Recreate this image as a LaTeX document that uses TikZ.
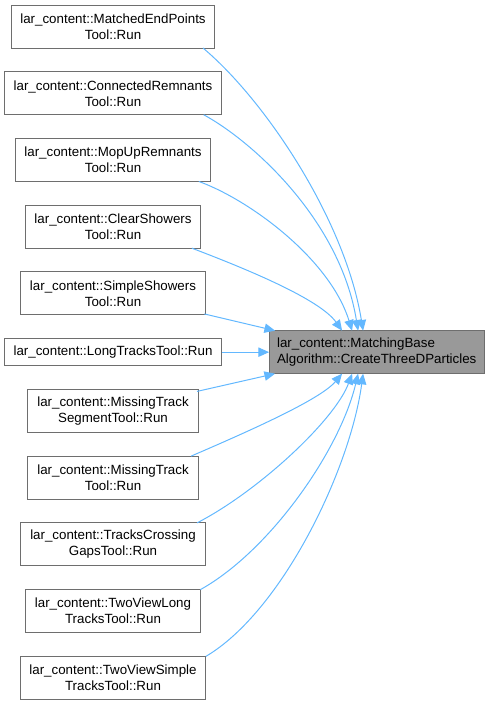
\documentclass[tikz,border=0pt]{standalone}
\usepackage{fontspec}
\setmainfont{Liberation Sans}
\usetikzlibrary{positioning,arrows.meta,calc}
\definecolor{edgeblue}{RGB}{99,184,255}
\definecolor{boxgray}{RGB}{110,110,110}
\definecolor{focusgray}{RGB}{153,153,153}

\begin{document}
\begin{tikzpicture}[
    x=0.75pt, y=0.75pt,
    func/.style={rectangle, draw=boxgray, fill=white, line width=0.75pt, outer sep=0pt, minimum height=32.25pt, inner xsep=7pt, align=center, font=\fontsize{10}{12}\selectfont},
    func1/.style={func, minimum height=20.25pt},
    focus/.style={func, fill=focusgray, inner xsep=6pt, align=left},
    callarrow/.style={-{Triangle[length=8pt, width=7pt]}, draw=edgeblue, line width=0.75pt},
]
\useasboundingbox (0,0) rectangle (488,-704);

% Callers
\node[func] (matched) at (113,-26.5) {lar\_content::MatchedEndPoints\\Tool::Run};
\node[func, below=17.8pt of matched] (connected) {lar\_content::ConnectedRemnants\\Tool::Run};
\node[func, below=17.8pt of connected] (mopup) {lar\_content::MopUpRemnants\\Tool::Run};
\node[func, below=17.8pt of mopup] (clear) {lar\_content::ClearShowers\\Tool::Run};
\node[func, below=17.8pt of clear] (simple) {lar\_content::SimpleShowers\\Tool::Run};
\node[func1, below=17.8pt of simple] (longtracks) {lar\_content::LongTracksTool::Run};
\node[func, below=17.8pt of longtracks] (missingseg) {lar\_content::MissingTrack\\SegmentTool::Run};
\node[func, below=17.8pt of missingseg] (missing) {lar\_content::MissingTrack\\Tool::Run};
\node[func, below=17.8pt of missing] (crossing) {lar\_content::TracksCrossing\\GapsTool::Run};
\node[func, below=17.8pt of crossing] (twolong) {lar\_content::TwoViewLong\\TracksTool::Run};
\node[func, below=17.8pt of twolong] (twosimple) {lar\_content::TwoViewSimple\\TracksTool::Run};

% Callee
\node[focus, right=35.5pt of longtracks] (create) {lar\_content::MatchingBase\\Algorithm::CreateThreeDParticles};

% Arrows from above
\draw[callarrow] ($(matched.south east)+(-12,0)$) .. controls +(62,-52) and +(-18,111) .. ($(create.north west)+(94,0)$);
\draw[callarrow] ($(connected.south east)+(-18,0)$) .. controls +(48,-26) and +(-18,111) .. ($(create.north west)+(89,0)$);
\draw[callarrow] ($(mopup.south east)+(-12,0)$) .. controls +(52,-19) and +(-22,71) .. ($(create.north west)+(83,0)$);
\draw[callarrow] ($(clear.south east)+(-9,0)$) .. controls +(58,-22) and +(-22,31) .. ($(create.north west)+(73,0)$);
\draw[callarrow] ($(simple.south east)+(-1,1)$) -- ($(create.north west)+(6,0)$);
\draw[callarrow] (longtracks.east) -- (create.west);

% Arrows from below
\draw[callarrow] ($(missingseg.north east)+(-1,-2)$) -- ($(create.south west)+(6,0)$);
\draw[callarrow] ($(missing.north east)+(-7,0)$) .. controls +(58,25) and +(-22,-26) .. ($(create.south west)+(73,0)$);
\draw[callarrow] ($(crossing.north east)+(-8,0)$) .. controls +(62,32) and +(-17,-46) .. ($(create.south west)+(83,0)$);
\draw[callarrow] (twolong.north east) .. controls +(70,39) and +(-18,-76) .. ($(create.south west)+(89,0)$);
\draw[callarrow] (twosimple.north east) .. controls +(76,45) and +(-13,-96) .. ($(create.south west)+(94,0)$);

\end{tikzpicture}
\end{document}
